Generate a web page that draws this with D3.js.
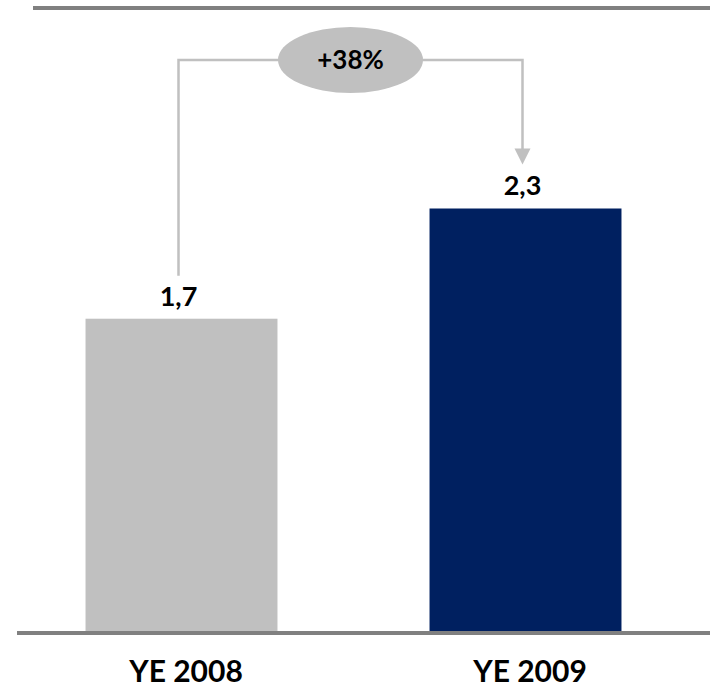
<!DOCTYPE html>
<html>
<head>
<meta charset="utf-8">
<script src="https://cdn.jsdelivr.net/npm/d3@7"></script>
<style>
  html, body { margin: 0; padding: 0; background: #ffffff; }
  svg { display: block; }
  text { font-family: Lato, "Open Sans", sans-serif; font-weight: 700; fill: #000; }
</style>
</head>
<body>
<div id="chart"></div>
<script>
// Year-end totals
const categories = ["YE 2008", "YE 2009"];
const values = [1.7, 2.3];
const valueLabels = ["1,7", "2,3"];
const growthLabel = "+38%";
const barColors = ["#c0c0c0", "#002060"];

const W = 710, H = 687;
const baseY = 631;

const svg = d3.select("#chart").append("svg")
  .attr("width", W).attr("height", H);

const x = d3.scaleBand()
  .domain(categories)
  .range([9.5, 697.5])
  .paddingInner(0.442)
  .paddingOuter(0.221);

const y = d3.scaleLinear()
  .domain([0, 2.3])
  .range([baseY, 208.5]);

// top rule
svg.append("line")
  .attr("x1", 33).attr("x2", W)
  .attr("y1", 8).attr("y2", 8)
  .attr("stroke", "#808080").attr("stroke-width", 4);

// bars
svg.selectAll("rect.bar")
  .data(values)
  .join("rect")
  .attr("class", "bar")
  .attr("x", (d, i) => x(categories[i]))
  .attr("width", x.bandwidth())
  .attr("y", d => y(d))
  .attr("height", d => y(0) - y(d))
  .attr("fill", (d, i) => barColors[i]);

// baseline
svg.append("line")
  .attr("x1", 17).attr("x2", W)
  .attr("y1", baseY + 2).attr("y2", baseY + 2)
  .attr("stroke", "#808080").attr("stroke-width", 4);

// value labels
svg.selectAll("text.val")
  .data(values)
  .join("text")
  .attr("class", "val")
  .attr("x", (d, i) => x(categories[i]) + x.bandwidth() / 2 - 3)
  .attr("y", (d, i) => y(d) - (i === 0 ? 13 : 14))
  .attr("text-anchor", "middle")
  .attr("font-size", 27)
  .text((d, i) => valueLabels[i]);

// category axis labels
const xAxis = d3.axisBottom(x).tickSize(0).tickPadding(0);
const gx = svg.append("g")
  .attr("transform", `translate(4.5, ${baseY})`)
  .call(xAxis);
gx.select(".domain").remove();
gx.selectAll("text")
  .attr("dy", null)
  .attr("y", 51)
  .attr("font-size", 30)
  .attr("font-family", "Lato, 'Open Sans', sans-serif")
  .attr("font-weight", 700)
  .attr("fill", "#000");

// growth bracket between the two bars
const cx0 = x(categories[0]) + x.bandwidth() / 2 - 3;
const cx1 = x(categories[1]) + x.bandwidth() / 2 - 3;
const bracketY = 60;
const leftEnd = y(values[0]) - 43;
const arrowTip = y(values[1]) - 44;
const arrowLen = 16;

svg.append("path")
  .attr("d", `M${cx0},${leftEnd} V${bracketY} H${cx1} V${arrowTip - arrowLen + 1}`)
  .attr("fill", "none")
  .attr("stroke", "#c0c0c0")
  .attr("stroke-width", 2.5);

svg.append("path")
  .attr("d", `M${cx1 - 8},${arrowTip - arrowLen} L${cx1 + 8},${arrowTip - arrowLen} L${cx1},${arrowTip} Z`)
  .attr("fill", "#c0c0c0");

const midX = (cx0 + cx1) / 2;
svg.append("ellipse")
  .attr("cx", midX).attr("cy", bracketY)
  .attr("rx", 72.5).attr("ry", 33)
  .attr("fill", "#c0c0c0");

svg.append("text")
  .attr("x", midX).attr("y", bracketY + 9)
  .attr("text-anchor", "middle")
  .attr("font-size", 26)
  .text(growthLabel);
</script>
</body>
</html>
